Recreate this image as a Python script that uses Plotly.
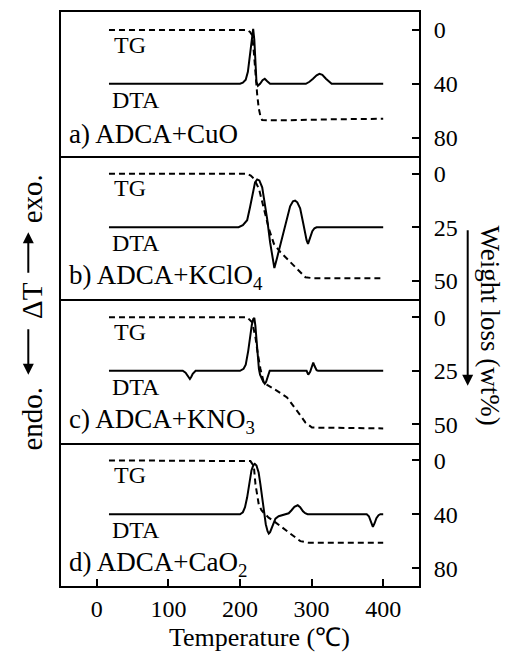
import plotly.graph_objects as go
from plotly.subplots import make_subplots

# ---------------- data ----------------
# DTA: temperature (°C) and ΔT (arbitrary units, exo up, baseline 0)
dta_a_T = [17, 200, 204, 208, 211, 214, 216.5, 218.4, 220, 221.5, 223, 225, 228, 231.5, 234.6, 238, 242, 292, 297, 302, 307, 311, 315, 320, 324, 328, 400]
dta_a_v = [0, 0, 1, 4, 12, 28, 45, 55, 44, 22, 2, -2, 0, 3.5, 5, 2.5, 0, 0, 2, 5, 8.5, 10, 9, 5, 2, 0, 0]

dta_b_T = [17, 198, 204, 210, 214, 218, 221, 224, 227, 231, 235, 238, 242, 245, 248, 252, 257, 261, 266, 270, 274, 277, 280, 284, 288, 291, 293, 295, 298, 301, 304, 307, 400]
dta_b_v = [0, 0, 2, 7, 20, 35, 45, 48, 47, 40, 22, 8, -15, -30, -41, -30, -15, -5, 10, 21, 26, 26.7, 25, 19, 5, -6, -13, -16.7, -10, -4, -1, 0, 0]

dta_c_T = [17, 120, 124, 127, 130, 132, 134, 138, 200, 205, 208, 211.5, 214, 216.5, 218.5, 220, 221.5, 223, 225, 226.4, 228, 230, 232.5, 234.6, 236.5, 238.3, 240, 241.5, 293, 295.3, 298, 300.5, 302.3, 304, 305.5, 307, 309, 400]
dta_c_v = [0, 0, -2, -5, -8.3, -6, -3, 0, 0, 2, 6, 20, 34, 46, 52, 53, 45, 30, 12, 2, -4, -8, -11, -13, -11, -7, -3, 0, 0, -4, -1, 4, 8.3, 5, 2, 0.5, 0, 0]

dta_d_T = [17, 200, 204, 207, 210, 213, 216, 218.5, 220.7, 223, 226, 228.5, 231, 233.3, 236, 238.5, 240.2, 242, 245, 249.5, 254, 258.8, 264, 268, 272, 276, 280.6, 284, 288, 291, 294.5, 377, 380, 382.5, 385.6, 388, 390.5, 393.5, 396, 400]
dta_d_v = [0, 0, 2, 7, 17, 32, 44, 49, 50.6, 49, 42, 30, 15, 2, -10, -17, -19.4, -18, -12, -4.4, -2, -1, 0, 1, 4, 7.5, 9, 7, 3, 1, 0, 0, -2, -7, -12.7, -9, -4, -1, 0, 0]

# TG: temperature (°C) and weight loss (wt%)
tg_a_T = [17, 210, 214, 217, 219.3, 221.6, 224, 226.2, 228.5, 230.9, 260, 330.8, 400]
tg_a_w = [0, 0, 1.5, 4, 16.3, 36, 48, 58.3, 64, 67, 67.2, 66.4, 66]

tg_b_T = [17, 210, 215, 219.6, 226.5, 233.5, 240.4, 247.4, 256.6, 270.5, 282, 291.3, 302.9, 396]
tg_b_w = [0, 0, 0.8, 2.3, 7, 16.4, 25.8, 32.8, 36.7, 41.4, 45.3, 48.4, 48.9, 48.9]

tg_c_T = [17, 210, 217, 221.6, 224.9, 228.6, 233.2, 237.9, 251.8, 265.7, 279.7, 291.3, 300.6, 400]
tg_c_w = [0, 0, 2.3, 9.4, 17.2, 24.2, 30.5, 31.6, 34.4, 37.5, 43.8, 49.2, 51.6, 52]

tg_d_T = [17, 210, 214.6, 219.3, 221.6, 226.2, 230, 233.3, 240, 247.2, 265.7, 284.3, 296, 400]
tg_d_w = [0, 0, 0.5, 4.2, 17.8, 32.7, 37, 39, 42.5, 45.1, 52.6, 60, 61.2, 61.2]

panel_labels = ["a) ADCA+CuO", "b) ADCA+KClO<sub>4</sub>", "c) ADCA+KNO<sub>3</sub>", "d) ADCA+CaO<sub>2</sub>"]
wt_ticks = [[0, 40, 80], [0, 25, 50], [0, 25, 50], [0, 40, 80]]
wt_ranges = [[93.3, -13.3], [58.6, -8.6], [58.6, -8.6], [93.3, -13.3]]
temp_ticks = [0, 100, 200, 300, 400]

dta_T = [dta_a_T, dta_b_T, dta_c_T, dta_d_T]
dta_v = [dta_a_v, dta_b_v, dta_c_v, dta_d_v]
tg_T = [tg_a_T, tg_b_T, tg_c_T, tg_d_T]
tg_w = [tg_a_w, tg_b_w, tg_c_w, tg_d_w]

# ---------------- figure ----------------
FONT = "Liberation Serif, Times New Roman, serif"
FS = 24
W, H = 507, 653
ML, MR, MT, MB = 61, 88, 10, 67
PW, PH = W - ML - MR, H - MT - MB

def px(x):
    return (x - ML) / PW

def py(y):
    return (H - MB - y) / PH

def f(size):
    return dict(family=FONT, size=size, color="black")

fig = make_subplots(rows=4, cols=1, shared_xaxes=True, vertical_spacing=0,
                    specs=[[{"secondary_y": True}] for _ in range(4)])

for i in range(4):
    r = i + 1
    fig.add_trace(go.Scatter(x=dta_T[i], y=dta_v[i], mode="lines",
                             line=dict(color="black", width=2), showlegend=False),
                  row=r, col=1, secondary_y=False)
    fig.add_trace(go.Scatter(x=tg_T[i], y=tg_w[i], mode="lines",
                             line=dict(color="black", width=2, dash="6px,4px"), showlegend=False),
                  row=r, col=1, secondary_y=True)
    fig.update_yaxes(row=r, col=1, secondary_y=False, range=[-72, 72], showline=True,
                     linecolor="black", linewidth=2, showticklabels=False, ticks="",
                     showgrid=False, zeroline=False)
    fig.update_yaxes(row=r, col=1, secondary_y=True, range=wt_ranges[i], showline=True,
                     linecolor="black", linewidth=2, ticks="inside", ticklen=7, tickwidth=1.5,
                     tickcolor="black", tickvals=wt_ticks[i], showgrid=False, zeroline=False,
                     ticklabelstandoff=8, tickfont=f(FS))
    fig.update_xaxes(row=r, col=1, range=[-50, 450], domain=[0, 1], showline=True,
                     mirror=(r == 1), linecolor="black", linewidth=2, showgrid=False, zeroline=False,
                     ticks="inside" if r == 4 else "", ticklen=7, tickwidth=1.5, tickcolor="black",
                     tickvals=temp_ticks, showticklabels=(r == 4), tickfont=f(FS))

annotations = []
for i in range(4):
    top = MT + i * PH / 4
    annotations.append(dict(text="TG", x=px(112), y=py(top + 33), xanchor="left"))
    annotations.append(dict(text="DTA", x=px(110), y=py(top + 88), xanchor="left"))
    annotations.append(dict(text=panel_labels[i], x=px(67), y=py(top + 122), xanchor="left",
                            font=f(27)))

# left axis label with arrows
annotations += [
    dict(text="exo.", x=px(32), y=py(198), textangle=-90, font=f(29)),
    dict(text="ΔT", x=px(32), y=py(300), textangle=-90, font=f(29)),
    dict(text="endo.", x=px(32), y=py(418), textangle=-90, font=f(29)),
    dict(text="", x=px(28.3), y=py(231), showarrow=True, ax=0, ay=42,
         arrowhead=2, arrowsize=1.1, arrowwidth=2, arrowcolor="black"),
    dict(text="", x=px(28.3), y=py(374), showarrow=True, ax=0, ay=-47,
         arrowhead=2, arrowsize=1.1, arrowwidth=2, arrowcolor="black"),
    # right axis label
    dict(text="Weight loss (wt%)", x=px(490), y=py(324.5), textangle=90, font=f(27)),
    dict(text="", x=px(467.7), y=py(385), showarrow=True, ax=0, ay=-157,
         arrowhead=2, arrowsize=1.1, arrowwidth=2, arrowcolor="black"),
    # x axis title
    dict(text="Temperature (℃)", x=px(259), y=py(638), font=f(26)),
]
for a in annotations:
    a.setdefault("font", f(FS))
    a.setdefault("xref", "paper")
    a.setdefault("yref", "paper")
    a.setdefault("xanchor", "center")
    a.setdefault("yanchor", "middle")
    a.setdefault("showarrow", False)

fig.update_layout(width=W, height=H, margin=dict(l=ML, r=MR, t=MT, b=MB),
                  paper_bgcolor="white", plot_bgcolor="white", showlegend=False,
                  annotations=annotations)

fig.write_html("out.html")
